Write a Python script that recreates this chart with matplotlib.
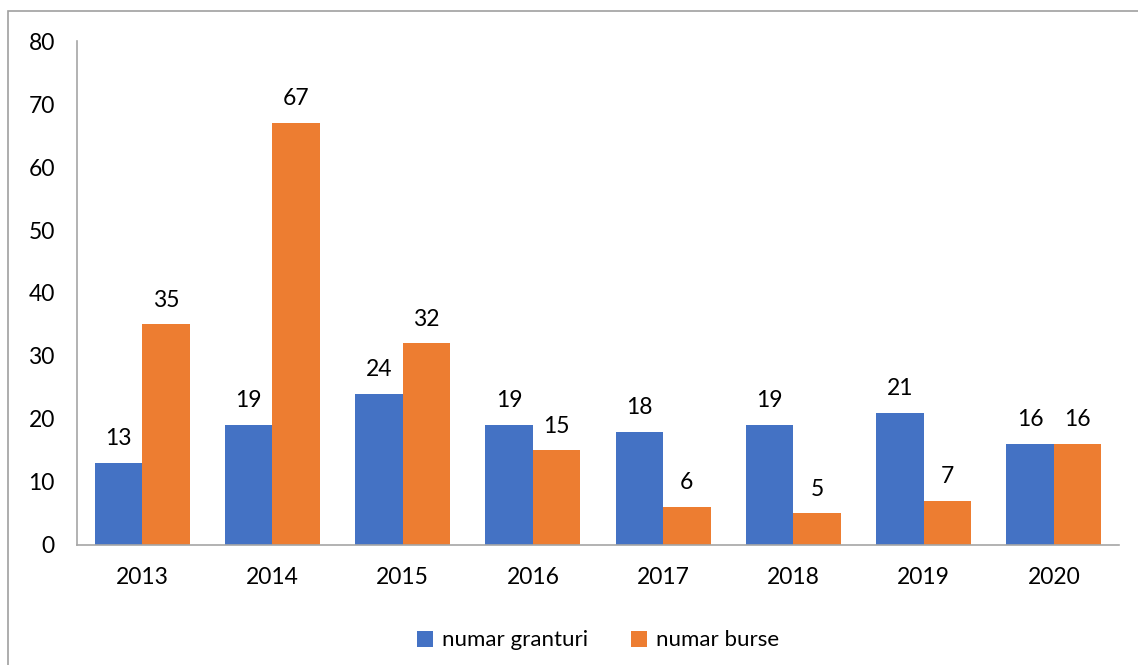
import numpy as np
import matplotlib.pyplot as plt
from matplotlib.patches import Rectangle

years = ['2013', '2014', '2015', '2016', '2017', '2018', '2019', '2020']
granturi = [13, 19, 24, 19, 18, 19, 21, 16]
burse = [35, 67, 32, 15, 6, 5, 7, 16]

BLUE = '#4472C4'
ORANGE = '#ED7D31'

plt.rcParams['font.family'] = ['Lato', 'DejaVu Sans']

fig = plt.figure(figsize=(11.38, 6.65), dpi=100)
ax = fig.add_axes([0.0677, 0.1805, 0.9156, 0.7578])

x = np.arange(len(years))
w = 0.365
b1 = ax.bar(x - w / 2, granturi, w, color=BLUE, label='numar granturi')
b2 = ax.bar(x + w / 2, burse, w, color=ORANGE, label='numar burse')

for bars in (b1, b2):
    for rect in bars:
        h = rect.get_height()
        ax.annotate(f'{int(h)}', (rect.get_x() + rect.get_width() / 2, h),
                    xytext=(0, 10), textcoords='offset points',
                    ha='center', va='bottom', fontsize=16.5, color='#000000')

ax.set_xlim(-0.5, len(years) - 0.5)
ax.set_ylim(0, 80)
ax.set_yticks(range(0, 81, 10))
ax.set_xticks(x)
ax.set_xticklabels(years)
ax.tick_params(axis='both', length=0, labelsize=16.5)
ax.tick_params(axis='y', pad=16)
ax.tick_params(axis='x', pad=16)

for s in ('top', 'right'):
    ax.spines[s].set_visible(False)
for s in ('left', 'bottom'):
    ax.spines[s].set_color('#A6A6A6')
    ax.spines[s].set_linewidth(1.2)

ax.legend(loc='upper center', bbox_to_anchor=(0.5, -0.13), ncol=2,
          frameon=False, fontsize=16, handlelength=0.75, handleheight=0.75,
          columnspacing=1.9, handletextpad=0.4)

# outer chart border
fig.patches.append(Rectangle((8 / 1138, -0.05), 1.1, 1 - 11 / 665 + 0.05,
                             transform=fig.transFigure, fill=False,
                             edgecolor='#A0A0A0', linewidth=1.2))

fig.savefig('out.png', dpi=100)
